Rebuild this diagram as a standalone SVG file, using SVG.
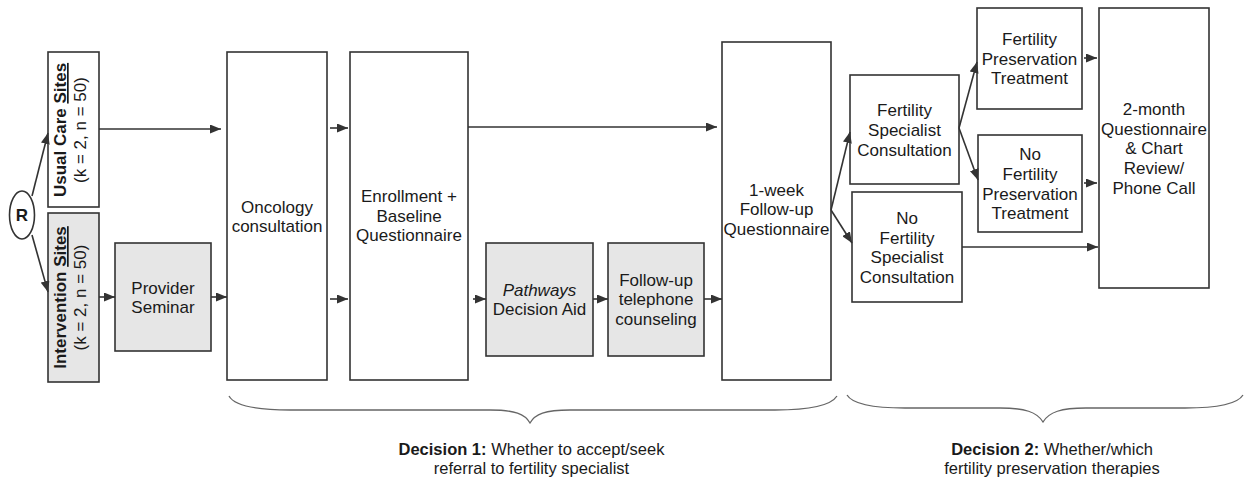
<svg xmlns="http://www.w3.org/2000/svg" width="1244" height="481" viewBox="0 0 1244 481">
<style>
  .box { fill: #ffffff; stroke: #333333; stroke-width: 1.6; }
  .gbox { fill: #e6e6e6; stroke: #333333; stroke-width: 1.6; }
  .t { font-family: "Liberation Sans", Arial, sans-serif; font-size: 17px; fill: #1a1a1a; text-anchor: middle; }
  .b { font-weight: bold; }
  .d { font-family: "Liberation Sans", Arial, sans-serif; font-size: 16.5px; fill: #1a1a1a; text-anchor: middle; }
  .c { stroke: #333333; stroke-width: 1.6; fill: none; marker-end: url(#ah); }
  .brace { stroke: #666666; stroke-width: 1.3; fill: none; }
</style>
<defs>
  <marker id="ah" markerUnits="userSpaceOnUse" markerWidth="11" markerHeight="9" refX="11" refY="4.5" orient="auto">
    <path d="M0,0 L11,4.5 L0,9 z" fill="#333333"/>
  </marker>
</defs>
<rect width="1244" height="481" fill="#ffffff"/>

<g id="node-R">
  <ellipse cx="22" cy="215" rx="12.5" ry="24" fill="#ffffff" stroke="#333333" stroke-width="1.6"/>
  <text class="t b" x="22" y="221" font-size="15">R</text>
</g>

<g id="node-usual">
  <rect class="box" x="48" y="52" width="51" height="155"/>
  <text class="t b" transform="translate(66,130) rotate(-90)">Usual Care <tspan text-decoration="underline">Sites</tspan></text>
  <text class="t" transform="translate(86,130) rotate(-90)">(k = 2, n = 50)</text>
</g>

<g id="node-intervention">
  <rect class="gbox" x="48" y="213" width="51" height="169"/>
  <text class="t b" transform="translate(66,297.5) rotate(-90)">Intervention <tspan text-decoration="underline">Sites</tspan></text>
  <text class="t" transform="translate(86,297.5) rotate(-90)">(k = 2, n = 50)</text>
</g>

<g id="node-seminar">
  <rect class="gbox" x="115" y="243" width="96" height="108"/>
  <text class="t" x="163" y="294">Provider</text>
  <text class="t" x="163" y="313">Seminar</text>
</g>

<g id="node-oncology">
  <rect class="box" x="227" y="52" width="100" height="328"/>
  <text class="t" x="277" y="213">Oncology</text>
  <text class="t" x="277" y="232">consultation</text>
</g>

<g id="node-enrollment">
  <rect class="box" x="350" y="52" width="118" height="328"/>
  <text class="t" x="409" y="202">Enrollment +</text>
  <text class="t" x="409" y="222">Baseline</text>
  <text class="t" x="409" y="241">Questionnaire</text>
</g>

<g id="node-pathways">
  <rect class="gbox" x="486" y="243" width="107" height="113"/>
  <text class="t" x="539.5" y="296" font-style="italic">Pathways</text>
  <text class="t" x="539.5" y="315">Decision Aid</text>
</g>

<g id="node-followup">
  <rect class="gbox" x="608" y="243" width="96" height="113"/>
  <text class="t" x="656" y="286">Follow-up</text>
  <text class="t" x="656" y="305">telephone</text>
  <text class="t" x="656" y="325">counseling</text>
</g>

<g id="node-oneweek">
  <rect class="box" x="722" y="42" width="109" height="338"/>
  <text class="t" x="776.5" y="196">1-week</text>
  <text class="t" x="776.5" y="215">Follow-up</text>
  <text class="t" x="776.5" y="235">Questionnaire</text>
</g>

<g id="node-fsc">
  <rect class="box" x="850" y="75" width="109" height="109"/>
  <text class="t" x="904.5" y="116">Fertility</text>
  <text class="t" x="904.5" y="136">Specialist</text>
  <text class="t" x="904.5" y="156">Consultation</text>
</g>

<g id="node-nofsc">
  <rect class="box" x="852" y="192" width="110" height="110"/>
  <text class="t" x="907" y="224">No</text>
  <text class="t" x="907" y="244">Fertility</text>
  <text class="t" x="907" y="263">Specialist</text>
  <text class="t" x="907" y="283">Consultation</text>
</g>

<g id="node-fpt">
  <rect class="box" x="977" y="8" width="105" height="101"/>
  <text class="t" x="1029.5" y="45">Fertility</text>
  <text class="t" x="1029.5" y="65">Preservation</text>
  <text class="t" x="1029.5" y="84">Treatment</text>
</g>

<g id="node-nofpt">
  <rect class="box" x="978" y="135" width="104" height="97"/>
  <text class="t" x="1030" y="160">No</text>
  <text class="t" x="1030" y="180">Fertility</text>
  <text class="t" x="1030" y="200">Preservation</text>
  <text class="t" x="1030" y="219">Treatment</text>
</g>

<g id="node-twomonth">
  <rect class="box" x="1099" y="8" width="110" height="280"/>
  <text class="t" x="1154" y="115">2-month</text>
  <text class="t" x="1154" y="135">Questionnaire</text>
  <text class="t" x="1154" y="154">&amp; Chart</text>
  <text class="t" x="1154" y="174">Review/</text>
  <text class="t" x="1154" y="194">Phone Call</text>
</g>

<g id="connectors">
  <line class="c" x1="32" y1="196" x2="48" y2="133"/>
  <line class="c" x1="32" y1="235" x2="48" y2="292"/>
  <line class="c" x1="99" y1="129" x2="221" y2="129"/>
  <line class="c" x1="99" y1="297" x2="115" y2="297"/>
  <line class="c" x1="211" y1="297" x2="227" y2="297"/>
  <line class="c" x1="330" y1="128" x2="348" y2="128"/>
  <line class="c" x1="330" y1="299" x2="348" y2="299"/>
  <line class="c" x1="468" y1="127" x2="717" y2="127"/>
  <line class="c" x1="473" y1="299" x2="486" y2="299"/>
  <line class="c" x1="593" y1="299" x2="608" y2="299"/>
  <line class="c" x1="704" y1="299" x2="722" y2="299"/>
  <line class="c" x1="831" y1="210" x2="850" y2="132"/>
  <line class="c" x1="831" y1="210" x2="852" y2="243"/>
  <line class="c" x1="959" y1="128" x2="977" y2="62"/>
  <line class="c" x1="959" y1="128" x2="978" y2="180"/>
  <line class="c" x1="1084" y1="58" x2="1097" y2="58"/>
  <line class="c" x1="1084" y1="183" x2="1097" y2="183"/>
  <line class="c" x1="962" y1="247" x2="1098" y2="247"/>
</g>

<g id="braces">
  <path class="brace" d="M229,396 C235,407 260,410 290,410 L490,410 C515,410 525,414 530,423 C535,414 545,410 570,410 L775,410 C805,410 830,407 837,396"/>
  <path class="brace" d="M847,395 C853,405 875,408 905,408 L1000,408 C1025,408 1037,412 1043,422 C1049,412 1061,408 1086,408 L1185,408 C1215,408 1237,405 1243,395"/>
</g>

<g id="labels">
  <text class="d" x="531.5" y="455"><tspan font-weight="bold">Decision 1:</tspan> Whether to accept/seek</text>
  <text class="d" x="531.5" y="474">referral to fertility specialist</text>
  <text class="d" x="1052" y="455"><tspan font-weight="bold">Decision 2:</tspan> Whether/which</text>
  <text class="d" x="1052" y="474">fertility preservation therapies</text>
</g>
</svg>
